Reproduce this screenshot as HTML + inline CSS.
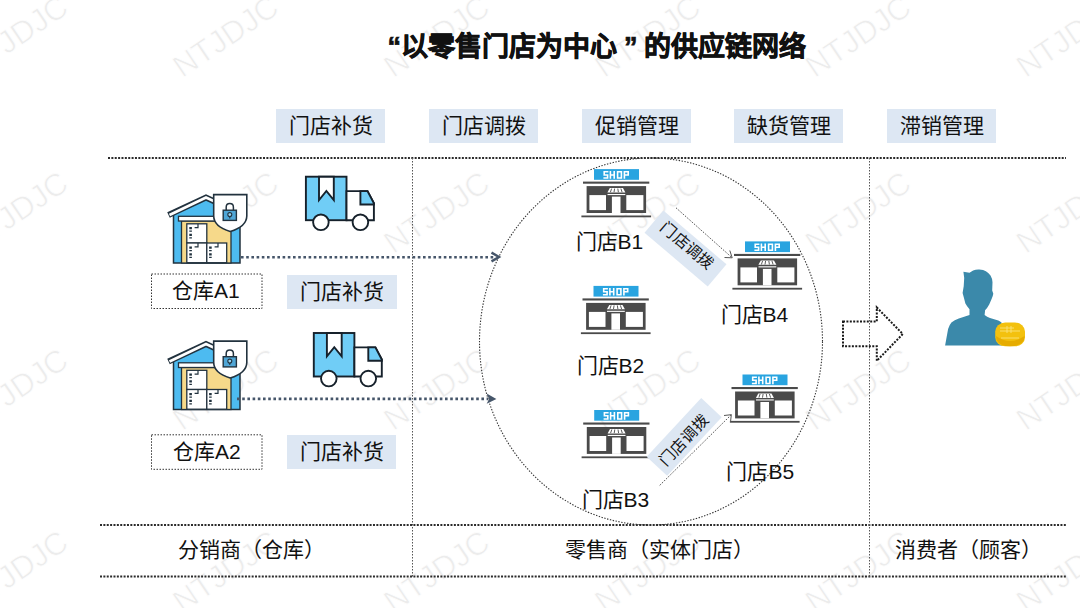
<!DOCTYPE html>
<html lang="zh-CN">
<head>
<meta charset="utf-8">
<style>
html,body{margin:0;padding:0;background:#fff;}
body{width:1080px;height:608px;position:relative;overflow:hidden;font-family:"Liberation Sans",sans-serif;color:#111;}
svg.bg{position:absolute;left:0;top:0;}
.t{position:absolute;white-space:nowrap;font-size:21px;line-height:21px;}
.hb{position:absolute;background:#dde7f3;width:109px;height:34px;}
.hb span{position:absolute;left:0;right:0;top:6px;text-align:center;font-size:21px;line-height:21px;white-space:nowrap;}
.title{position:absolute;left:374px;top:32px;font-size:27px;line-height:30px;font-weight:bold;-webkit-text-stroke:0.7px #111;color:#111;white-space:nowrap;}
.q{display:inline-block;width:27px;}
.db{position:absolute;width:110px;height:34px;}
.rb{position:absolute;background:#dde7f3;font-size:15.5px;line-height:28px;text-align:center;white-space:nowrap;}
</style>
</head>
<body>
<svg class="bg" width="1080" height="608" viewBox="0 0 1080 608">
  <defs>
    <g id="wh">
      <!-- body -->
      <polygon points="173.5,213 206,198 240,213 240,263 173.5,263" fill="#4dbbf0" stroke="#22323e" stroke-width="1.5"/>
      <!-- yellow interior -->
      <rect x="181.5" y="221" width="49.5" height="42" fill="#f6d98a" stroke="#22323e" stroke-width="1.3"/>
      <!-- beam -->
      <rect x="178.5" y="216.3" width="57" height="4.7" fill="#fff" stroke="#22323e" stroke-width="1.3"/>
      <!-- boxes -->
      <rect x="186.8" y="223.8" width="20" height="19.2" fill="#fff" stroke="#22323e" stroke-width="1.3"/>
      <rect x="186.8" y="243" width="20" height="19.7" fill="#fff" stroke="#22323e" stroke-width="1.3"/>
      <rect x="206.8" y="243" width="19.9" height="19.7" fill="#fff" stroke="#22323e" stroke-width="1.3"/>
      <path d="M198 224 v3.6 h-3.4 M198 243 v3.8 h-3.4 M218 243 v3.8 h-3.4" fill="none" stroke="#22323e" stroke-width="1.2"/>
      <path d="M190.6 227 v13 M190.6 246.5 v13 M210.4 246.5 v13" fill="none" stroke="#22323e" stroke-width="2.6" stroke-dasharray="2.2 1.2 1.4 2"/>
      <!-- roof band -->
      <path d="M168.5 215 L206 197.5 L244 215" fill="none" stroke="#22323e" stroke-width="6" stroke-linejoin="miter" stroke-linecap="butt"/>
      <path d="M169.5 215 L206 197.5 L244 215" fill="none" stroke="#fff" stroke-width="2.8" stroke-linejoin="miter"/>
      <!-- shield -->
      <path d="M213.7 194.6 H246.8 V216 Q246.6 226.5 230.2 231.5 Q213.8 226.5 213.7 216 Z" fill="#fff" stroke="#22323e" stroke-width="1.6"/>
      <!-- lock -->
      <path d="M226.2 210.5 V207.2 Q226.2 203.6 229.8 203.6 Q233.4 203.6 233.4 207.2 V210.5" fill="none" stroke="#22323e" stroke-width="1.5"/>
      <rect x="223.2" y="210.2" width="13.2" height="10.2" fill="#4fa6d6" stroke="#22323e" stroke-width="1.4"/>
      <circle cx="229.8" cy="214.6" r="2" fill="#9ad6f2" stroke="#22323e" stroke-width="1.1"/><path d="M229.8 216.5 v2" stroke="#22323e" stroke-width="1"/>
    </g>
    <g id="truck">
      <rect x="305.9" y="176.7" width="40.6" height="43.5" fill="#70cdf6" stroke="#16212b" stroke-width="1.9"/>
      <polygon points="319,176.7 333.8,176.7 333.8,200 326.4,190.9 319,200" fill="#fff" stroke="#16212b" stroke-width="1.9" stroke-linejoin="miter"/>
      <path d="M346.5 191.1 H367.5 L373.9 203.2 V220.2 H346.5 Z" fill="#fff" stroke="#16212b" stroke-width="1.9"/>
      <path d="M360.4 191.1 H367.5 L373.9 203.2 V204.5 H360.4 Z" fill="#70cdf6" stroke="#16212b" stroke-width="1.9"/>
      <circle cx="320.9" cy="222.3" r="7.8" fill="#fff" stroke="#16212b" stroke-width="1.9"/>
      <circle cx="360.4" cy="222.3" r="7.8" fill="#fff" stroke="#16212b" stroke-width="1.9"/>
    </g>
    <g id="shop">
      <rect x="0" y="0" width="45" height="10.7" fill="#29a4e0"/>
      <path fill="#fff" d="M9.4 2H14.4V3.5H11V5.1H14.4V9.7H9.4V8.2H12.8V6.6H9.4Z M15.6 2H17.2V5.1H19.4V2H21V9.7H19.4V6.6H17.2V9.7H15.6Z M22.8 2H28.2V9.7H22.8Z M24.4 3.5V8.2H26.6V3.5Z M29.6 2H35V6.6H31.2V9.7H29.6Z M31.2 3.5V5.1H33.4V3.5Z" fill-rule="evenodd"/>
      <rect x="-11" y="12.5" width="66.3" height="2.1" fill="#4a4a4a"/>
      <rect x="-7.4" y="17" width="59.5" height="26.9" fill="#4a4a4a"/>
      <rect x="-4.6" y="26" width="16.6" height="15" fill="#fff"/>
      <rect x="17.9" y="27.5" width="8.6" height="16.4" fill="#fff"/>
      <rect x="32.3" y="26" width="17.1" height="15" fill="#fff"/>
      <path d="M13.4 23.4 L15.8 19 H29 L31.4 23.4 Z" fill="#fff"/>
      <path d="M17.6 19.5 l-1.2 3.6 M20.6 19.5 l-0.6 3.6 M23.8 19.5 l0.6 3.6 M26.9 19.5 l1.2 3.6" stroke="#4a4a4a" stroke-width="0.9"/>
      <rect x="13.5" y="24.9" width="17.8" height="1.1" fill="#fff"/>
      <rect x="-12.6" y="46.4" width="69.7" height="1.8" fill="#4a4a4a"/>
    </g>
  </defs>

  <!-- watermark -->
  <g font-family="Liberation Sans" font-size="31.5" fill="#ececec" stroke="#fff" stroke-width="0.7" text-anchor="middle">
    <text transform="translate(15.5,37) rotate(-34)" dy="10">NTJDJC</text>
    <text transform="translate(226,37) rotate(-34)" dy="10">NTJDJC</text>
    <text transform="translate(437,37) rotate(-34)" dy="10">NTJDJC</text>
    <text transform="translate(648,37) rotate(-34)" dy="10">NTJDJC</text>
    <text transform="translate(858.5,37) rotate(-34)" dy="10">NTJDJC</text>
    <text transform="translate(1069.5,37) rotate(-34)" dy="10">NTJDJC</text>
    <text transform="translate(15.5,213) rotate(-34)" dy="10">NTJDJC</text>
    <text transform="translate(226,213) rotate(-34)" dy="10">NTJDJC</text>
    <text transform="translate(437,213) rotate(-34)" dy="10">NTJDJC</text>
    <text transform="translate(648,213) rotate(-34)" dy="10">NTJDJC</text>
    <text transform="translate(858.5,213) rotate(-34)" dy="10">NTJDJC</text>
    <text transform="translate(1069.5,213) rotate(-34)" dy="10">NTJDJC</text>
    <text transform="translate(15.5,390) rotate(-34)" dy="10">NTJDJC</text>
    <text transform="translate(226,390) rotate(-34)" dy="10">NTJDJC</text>
    <text transform="translate(437,390) rotate(-34)" dy="10">NTJDJC</text>
    <text transform="translate(648,390) rotate(-34)" dy="10">NTJDJC</text>
    <text transform="translate(858.5,390) rotate(-34)" dy="10">NTJDJC</text>
    <text transform="translate(1069.5,390) rotate(-34)" dy="10">NTJDJC</text>
    <text transform="translate(15.5,572) rotate(-34)" dy="10">NTJDJC</text>
    <text transform="translate(226,572) rotate(-34)" dy="10">NTJDJC</text>
    <text transform="translate(437,572) rotate(-34)" dy="10">NTJDJC</text>
    <text transform="translate(648,572) rotate(-34)" dy="10">NTJDJC</text>
    <text transform="translate(858.5,572) rotate(-34)" dy="10">NTJDJC</text>
    <text transform="translate(1069.5,572) rotate(-34)" dy="10">NTJDJC</text>
  </g>

  <!-- grid lines -->
  <g fill="none" stroke="#2b2b2b" stroke-width="2" stroke-dasharray="2 1.37">
    <line x1="108" y1="158" x2="1066" y2="158"/>
    <line x1="100" y1="525" x2="1067" y2="525"/>
    <line x1="100" y1="576.5" x2="1067" y2="576.5"/>
  </g>
  <g fill="none" stroke="#555" stroke-width="1" stroke-dasharray="1.5 1.5">
    <line x1="412.5" y1="158" x2="412.5" y2="577"/>
    <line x1="869.5" y1="158" x2="869.5" y2="577"/>
  </g>

  <!-- ellipse -->
  <ellipse cx="651" cy="341.5" rx="171.5" ry="183.5" fill="none" stroke="#333" stroke-width="1.1" stroke-dasharray="1.4 1.5"/>

  <!-- warehouses & trucks -->
  <use href="#wh"/>
  <use href="#wh" transform="translate(0,146.5)"/>
  <use href="#truck"/>
  <use href="#truck" transform="translate(7.9,156.3)"/>

  <!-- arrows from warehouses -->
  <g stroke="#46566a" fill="none">
    <line x1="241" y1="257.2" x2="494" y2="257.2" stroke-width="2.6" stroke-dasharray="2.6 2.6"/>
    <path d="M491.5 252.6 L499 257 L491.5 261.4" stroke-width="2.4"/>
    <line x1="237" y1="398.9" x2="488" y2="398.9" stroke-width="2.6" stroke-dasharray="2.6 2.6"/>
  </g>
  <path d="M486.7 393.6 L496.4 398.9 L486.7 403.7 L489 398.9 Z" fill="#46566a"/>

  <!-- shops -->
  <use href="#shop" transform="translate(594,169.1)"/>
  <use href="#shop" transform="translate(593.5,285.9)"/>
  <use href="#shop" transform="translate(594.2,410)"/>
  <use href="#shop" transform="translate(745,241.4)"/>
  <use href="#shop" transform="translate(742.5,374.5)"/>

  <!-- thin arrows -->
  <g fill="none" stroke="#555" stroke-width="1" stroke-dasharray="1.6 1.4">
    <line x1="676" y1="207.8" x2="732.2" y2="257.8"/>
    <line x1="659.7" y1="485.4" x2="731.3" y2="414.7"/>
  </g>
  <g fill="none" stroke="#555" stroke-width="1">
    <path d="M724.5 257.5 L732.2 257.8 L729.8 250.5"/>
    <path d="M724 415.5 L731.3 414.7 L730.5 422"/>
  </g>

  <!-- hollow arrow -->
  <polygon points="843,321.5 876.8,321.5 876.8,307.5 902.8,334 876.8,360.8 876.8,346.2 843,346.2" fill="none" stroke="#1a1a1a" stroke-width="2" stroke-dasharray="2 1.4"/>

  <!-- person -->
  <path d="M963.4 271.8 L969.5 272.8 L973.1 270.5 Q976 269.3 979.3 269.5 Q983.5 269.8 985.9 271.2 Q989 273 990.5 275.6 Q992.3 278.6 992.5 282.2 L992.2 290.4 L993.3 293.7 Q992.8 296.5 991.7 298.7 L989.2 304.4 Q987.4 307.8 985.1 310.2 L984.6 315.1 Q987 317 990 317.9 L998.3 320.5 Q1000.3 321.3 1001.5 322.5 L1003.2 345.5 L945.1 345.5 L948.1 329.1 Q949.3 325 951.4 322.5 Q954.5 320 958.8 318.4 L969.5 315.1 L969.5 309.3 Q967 306.5 965.4 303.6 L963.7 297 L962.6 292.9 L963.7 286.3 L964.2 278.1 Z" fill="#3b89aa"/>
  <g>
    <rect x="995.2" y="322.5" width="29.8" height="23.8" rx="10" ry="9" fill="#f3c10e"/>
    <path d="M996 336 Q1010 346 1024.5 336 L1024 340 Q1020 346.3 1010 346.3 Q1000 346.3 996.5 340 Z" fill="#e6ac00"/>
    <path d="M1000 331 H1020 M1000 328 H1014 M1007 326 V333 M1011 326 V333 M1001 338 H1019" stroke="#fbe27a" stroke-width="0.9" fill="none"/>
  </g>
</svg>

<div class="title"><span class="q" style="text-align:right">“</span>以零售门店为中心<span class="q" style="text-align:left;padding-left:7px;width:20px">”</span>的供应链网络</div>

<div class="hb" style="left:276px;top:109px;"><span>门店补货</span></div>
<div class="hb" style="left:429px;top:109px;"><span>门店调拨</span></div>
<div class="hb" style="left:582px;top:109px;"><span>促销管理</span></div>
<div class="hb" style="left:734px;top:109px;"><span>缺货管理</span></div>
<div class="hb" style="left:887px;top:109px;"><span>滞销管理</span></div>

<svg class="bg" width="1080" height="608" style="pointer-events:none">
  <rect x="151.5" y="274" width="110.5" height="34.5" fill="none" stroke="#333" stroke-width="1" stroke-dasharray="1.5 1.5"/>
  <rect x="151.5" y="434.8" width="110.5" height="34.5" fill="none" stroke="#333" stroke-width="1" stroke-dasharray="1.5 1.5"/>
</svg>
<div class="t" style="left:172px;top:280px;">仓库A1</div>
<div class="hb" style="left:287px;top:274.5px;height:34px;width:110px;"><span>门店补货</span></div>
<div class="t" style="left:173px;top:441px;">仓库A2</div>
<div class="hb" style="left:287px;top:435px;height:34px;width:109px;"><span>门店补货</span></div>

<div class="t" style="left:575.5px;top:230.5px;">门店B1</div>
<div class="t" style="left:576.5px;top:354.8px;">门店B2</div>
<div class="t" style="left:581.6px;top:489px;">门店B3</div>
<div class="t" style="left:720.5px;top:304px;">门店B4</div>
<div class="t" style="left:726.4px;top:461px;">门店B5</div>

<div class="rb" style="left:644.4px;top:233.9px;width:83px;height:29px;line-height:29px;transform:rotate(40.4deg);"><span style="display:block;transform:translate(-0.3px,-3.2px);">门店调拨</span></div>
<div class="rb" style="left:644px;top:423px;width:80px;height:27.5px;line-height:27.5px;transform:rotate(-47deg);"><span style="display:block;transform:translate(-2.6px,2.4px);">门店调拨</span></div>

<div class="t" style="left:178px;top:539px;">分销商（仓库）</div>
<div class="t" style="left:565.3px;top:539px;">零售商（实体门店）</div>
<div class="t" style="left:895.4px;top:539.3px;">消费者（顾客）</div>
</body>
</html>
